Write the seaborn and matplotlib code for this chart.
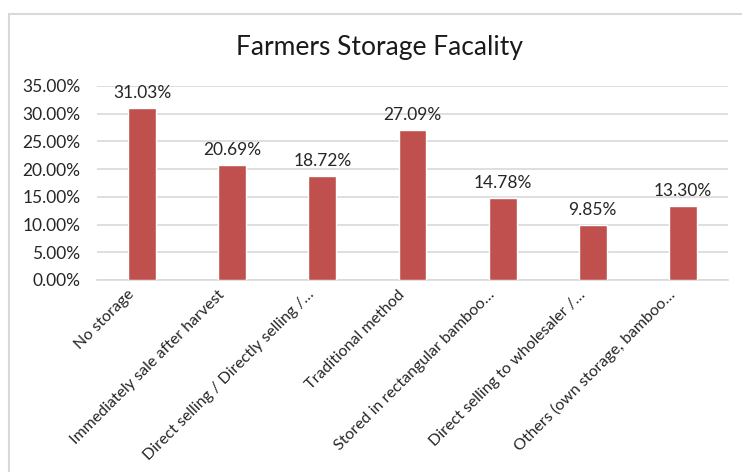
import matplotlib
matplotlib.use("Agg")
import matplotlib.pyplot as plt
from matplotlib.patches import Rectangle
from matplotlib.ticker import FuncFormatter
from matplotlib.transforms import ScaledTranslation
import seaborn as sns
import pandas as pd

categories = [
    "No storage",
    "Immediately sale after harvest",
    "Direct selling / Directly selling /…",
    "Traditional method",
    "Stored in rectangular bamboo…",
    "Direct selling to wholesaler /…",
    "Others (own storage, bamboo…",
]
shares = [0.3103, 0.2069, 0.1872, 0.2709, 0.1478, 0.0985, 0.1330]
y_ticks = [0.0, 0.05, 0.10, 0.15, 0.20, 0.25, 0.30, 0.35]

df = pd.DataFrame({"category": categories, "share": shares})

sns.set_theme(style="white")
plt.rcParams["font.family"] = ["Lato", "DejaVu Sans"]

W, H = 742, 472
fig = plt.figure(figsize=(W / 100, H / 100), dpi=100)
ax = fig.add_axes([97 / W, 1 - 280 / H, (728 - 97) / W, (280 - 86) / H])

# chart frame
fig.patches.append(Rectangle((9 / W, -0.05), 1.2, 1 - 14 / H + 0.05,
                             transform=fig.transFigure, fill=False,
                             edgecolor="#D9D9D9", linewidth=1.5, zorder=0))

sns.barplot(data=df, x="category", y="share", color="#C0504D",
            width=0.31, saturation=1, ax=ax, zorder=3)

ax.set_ylim(0, 0.35)
ax.set_xlim(-0.5, len(categories) - 0.5)
ax.set_yticks(y_ticks)
ax.yaxis.set_major_formatter(FuncFormatter(lambda v, _: f"{v * 100:.2f}%"))
ax.grid(axis="y", color="#D9D9D9", linewidth=1.2, zorder=0)
ax.set_axisbelow(True)
for side in ["top", "right", "left"]:
    ax.spines[side].set_visible(False)
ax.spines["bottom"].set_color("#D9D9D9")
ax.spines["bottom"].set_linewidth(1.2)
ax.set_xlabel("")
ax.set_ylabel("")
ax.tick_params(axis="y", labelsize=12.5, labelcolor="#262626", length=0, pad=12)
ax.tick_params(axis="x", labelsize=11.5, labelcolor="#262626", length=0, pad=9)
shift = ScaledTranslation(-0.1, 0, fig.dpi_scale_trans)
for lbl in ax.get_xticklabels():
    lbl.set_rotation(45)
    lbl.set_ha("right")
    lbl.set_va("center")
    lbl.set_rotation_mode("anchor")
    lbl.set_transform(lbl.get_transform() + shift)

for i, v in enumerate(shares):
    ax.annotate(f"{v * 100:.2f}%", (i, v), xytext=(0, 5), textcoords="offset points",
                ha="center", va="bottom", fontsize=12.5, color="#262626")

fig.text(0.512, 1 - 48 / H, "Farmers Storage Facality", ha="center", va="center",
         fontsize=19, color="#1a1a1a")

fig.savefig("out.png", dpi=100)
